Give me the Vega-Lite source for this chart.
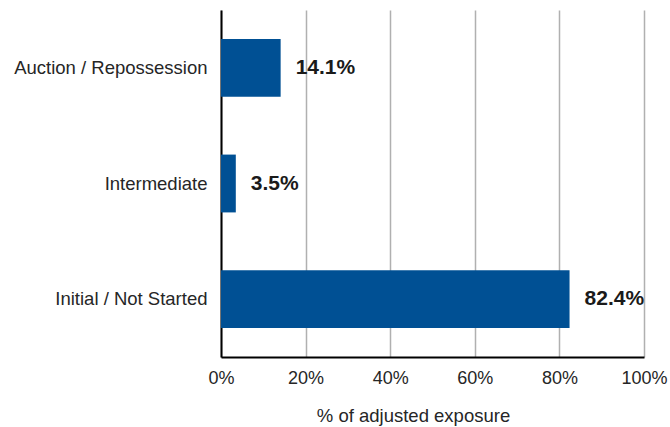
{
  "$schema": "https://vega.github.io/schema/vega-lite/v6.json",
  "width": 423,
  "height": 347,
  "autosize": "none",
  "padding": {"left": 221, "top": 10, "right": 26, "bottom": 70},
  "background": "white",
  "config": {"view": {"stroke": null}, "font": "Liberation Sans"},
  "data": {"values": [
    {"stage": "Auction / Repossession", "value": 0.141, "label": "14.1%"},
    {"stage": "Intermediate", "value": 0.035, "label": "3.5%"},
    {"stage": "Initial / Not Started", "value": 0.824, "label": "82.4%"}
  ]},
  "encoding": {
    "y": {"field": "stage", "type": "nominal", "sort": null,
      "scale": {"paddingInner": 0.5, "paddingOuter": 0.25},
      "axis": {"title": null, "domainColor": "#000000", "domainWidth": 2, "ticks": false, "labelPadding": 14, "labelFontSize": 18.5, "labelColor": "#262626", "labelFont": "Liberation Sans", "labelLimit": 300}},
    "x": {"field": "value", "type": "quantitative",
      "scale": {"domain": [0, 1], "nice": false},
      "axis": {"title": "% of adjusted exposure", "format": ".0%", "values": [0, 0.2, 0.4, 0.6, 0.8, 1], "labelFlush": false, "grid": true, "gridColor": "#b0b0b0", "gridWidth": 1.5, "domainColor": "#000000", "domainWidth": 2, "ticks": false, "labelPadding": 12, "labelFontSize": 18, "labelColor": "#262626", "titleFontSize": 18.5, "titleFontWeight": "normal", "titleColor": "#262626", "titlePadding": 19, "titleX": 192, "titleAlign": "center", "labelFont": "Liberation Sans", "titleFont": "Liberation Sans"}}
  },
  "layer": [
    {"mark": {"type": "bar", "color": "#005094"}},
    {"mark": {"type": "text", "align": "left", "dx": 15, "fontSize": 21, "fontWeight": "bold", "color": "#1a1a1a", "font": "Liberation Sans"},
     "encoding": {"text": {"field": "label"}}}
  ]
}
